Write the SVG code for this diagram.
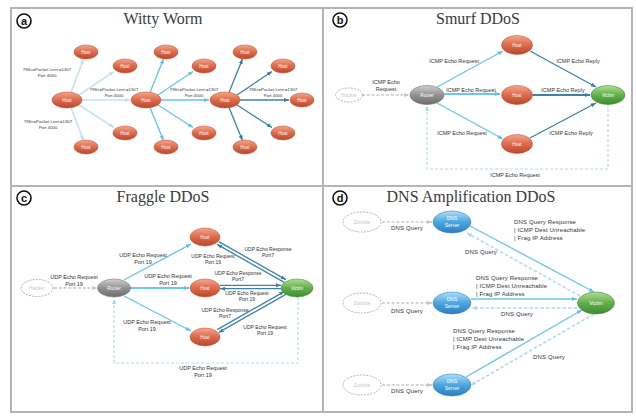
<svg xmlns="http://www.w3.org/2000/svg" width="636" height="416" viewBox="0 0 636 416">
<defs>
<linearGradient id="gHost" x1="0" y1="0" x2="0" y2="1"><stop offset="0" stop-color="#f3a88e"/><stop offset="0.45" stop-color="#df6f50"/><stop offset="1" stop-color="#b9462a"/></linearGradient>
<linearGradient id="gRouter" x1="0" y1="0" x2="0" y2="1"><stop offset="0" stop-color="#cfcfcf"/><stop offset="0.5" stop-color="#929292"/><stop offset="1" stop-color="#6c6c6c"/></linearGradient>
<linearGradient id="gVictim" x1="0" y1="0" x2="0" y2="1"><stop offset="0" stop-color="#b0dc98"/><stop offset="0.5" stop-color="#62b04a"/><stop offset="1" stop-color="#3f8a32"/></linearGradient>
<linearGradient id="gDns" x1="0" y1="0" x2="0" y2="1"><stop offset="0" stop-color="#aee0f8"/><stop offset="0.5" stop-color="#4ba6de"/><stop offset="1" stop-color="#2d7cbf"/></linearGradient>
<marker id="mPale" viewBox="0 0 10 10" refX="10" refY="5" markerWidth="5" markerHeight="5" markerUnits="userSpaceOnUse" orient="auto"><path d="M0,1L10,5L0,9z" fill="#bfe0ee"/></marker>
<marker id="mLight" viewBox="0 0 10 10" refX="10" refY="5" markerWidth="5" markerHeight="5" markerUnits="userSpaceOnUse" orient="auto"><path d="M0,1L10,5L0,9z" fill="#62c0e8"/></marker>
<marker id="mDark" viewBox="0 0 10 10" refX="10" refY="5" markerWidth="5" markerHeight="5" markerUnits="userSpaceOnUse" orient="auto"><path d="M0,1L10,5L0,9z" fill="#3a7ca4"/></marker>
<marker id="mGray" viewBox="0 0 10 10" refX="10" refY="5" markerWidth="5" markerHeight="5" markerUnits="userSpaceOnUse" orient="auto"><path d="M0,1L10,5L0,9z" fill="#c4c4c4"/></marker>
<marker id="mDash" viewBox="0 0 10 10" refX="10" refY="5" markerWidth="5" markerHeight="5" markerUnits="userSpaceOnUse" orient="auto"><path d="M0,1L10,5L0,9z" fill="#a9d8ee"/></marker>
</defs>
<style>
.frame{fill:#fff;stroke:#b4b4b4;stroke-width:2}
.title{font-family:"Liberation Serif",serif;font-size:16px;fill:#3a3a3a;text-anchor:middle}
.badge circle{fill:#fff;stroke:#111;stroke-width:1.6}
.badge text{font-family:"Liberation Sans",sans-serif;font-size:11px;font-weight:bold;fill:#111;text-anchor:middle}
.host{fill:url(#gHost);stroke:#c65637;stroke-width:0.6}
.router{fill:url(#gRouter);stroke:#777;stroke-width:0.6}
.victim{fill:url(#gVictim);stroke:#4a8f3a;stroke-width:0.6}
.dns{fill:url(#gDns);stroke:#3a88c4;stroke-width:0.6}
.ghost{fill:#fff;stroke:#aaa;stroke-width:0.9;stroke-dasharray:2,1.2}
.nt{font-family:"Liberation Sans",sans-serif;font-size:4.5px;fill:#fff;text-anchor:middle}
.gt{font-family:"Liberation Sans",sans-serif;font-size:5px;fill:#c8c8c8;text-anchor:middle}
.lbl{font-family:"Liberation Sans",sans-serif;font-size:5.5px;fill:#333;text-anchor:middle}
.sl{font-family:"Liberation Sans",sans-serif;font-size:5px;fill:#333;text-anchor:middle}
.wl{font-family:"Liberation Sans",sans-serif;font-size:4.3px;fill:#333;text-anchor:middle}
.dl{font-family:"Liberation Sans",sans-serif;font-size:6px;fill:#333;letter-spacing:0.15px}
.dlc{font-family:"Liberation Sans",sans-serif;font-size:6px;fill:#333;text-anchor:middle;letter-spacing:0.15px}
.ePale{stroke:#c6e3ef;stroke-width:1.6;fill:none;marker-end:url(#mPale)}
.eLight{stroke:#6cc5ea;stroke-width:1.4;fill:none;marker-end:url(#mLight)}
.eDark{stroke:#3f81a8;stroke-width:1.3;fill:none;marker-end:url(#mDark)}
.eGray{stroke:#c8c8c8;stroke-width:1.6;stroke-dasharray:3,1.8;fill:none;marker-end:url(#mGray)}
.eDash{stroke:#b3dcef;stroke-width:1.6;stroke-dasharray:3.5,2;fill:none;marker-end:url(#mDash)}
.box{stroke:#b3dcef;stroke-width:1.2;stroke-dasharray:3,2;fill:none}
</style>
<rect width="636" height="416" fill="#fff"/>
<g id="frames">
<rect class="frame" x="11" y="8" width="312" height="178"/>
<rect class="frame" x="323" y="8" width="309" height="178"/>
<rect class="frame" x="11" y="186" width="312" height="226"/>
<rect class="frame" x="323" y="186" width="309" height="226"/>
</g>
<g id="titles">
<text class="title" x="163" y="24">Witty Worm</text>
<text class="title" x="478" y="24">Smurf DDoS</text>
<text class="title" x="163" y="202">Fraggle DDoS</text>
<text class="title" x="471" y="202">DNS Amplification DDoS</text>
<g class="badge"><circle cx="24" cy="21" r="7"/><text x="24" y="25">a</text></g>
<g class="badge"><circle cx="340" cy="20" r="7"/><text x="340" y="24">b</text></g>
<g class="badge"><circle cx="24" cy="198" r="7"/><text x="24" y="202">c</text></g>
<g class="badge"><circle cx="340" cy="198" r="7"/><text x="340" y="202">d</text></g>
</g>
<g id="connectors">
<!-- a -->
<line class="ePale" x1="71" y1="92.5" x2="83.5" y2="59"/>
<line class="ePale" x1="79" y1="95" x2="114" y2="71.5"/>
<line class="ePale" x1="79" y1="105" x2="114" y2="127.5"/>
<line class="ePale" x1="71" y1="107.5" x2="83.5" y2="140.5"/>
<line class="ePale" x1="82" y1="100" x2="130" y2="100"/>
<line class="eLight" x1="150" y1="92.5" x2="163.5" y2="59"/>
<line class="eLight" x1="158" y1="95" x2="193" y2="71.5"/>
<line class="eLight" x1="158" y1="105" x2="193" y2="127.5"/>
<line class="eLight" x1="150" y1="107.5" x2="163.5" y2="140.5"/>
<line class="eLight" x1="161" y1="100" x2="209" y2="100"/>
<line class="eDark" x1="229" y1="92.5" x2="242.5" y2="59"/>
<line class="eDark" x1="237" y1="95" x2="272" y2="71.5"/>
<line class="eDark" x1="237" y1="105" x2="272" y2="127.5"/>
<line class="eDark" x1="229" y1="107.5" x2="242.5" y2="140.5"/>
<line class="eDark" x1="240" y1="100" x2="289" y2="100"/>
<!-- b -->
<line class="eGray" x1="362" y1="95" x2="409" y2="95"/>
<line class="eLight" x1="437" y1="87" x2="503" y2="51"/>
<line class="eLight" x1="444" y1="94" x2="500" y2="94" style="stroke-width:2.2"/>
<line class="eLight" x1="437" y1="103" x2="503" y2="139"/>
<line class="eDark" x1="530" y1="51" x2="596" y2="87"/>
<line class="eDark" x1="532" y1="95" x2="590" y2="95" style="stroke-width:1.8"/>
<line class="eDark" x1="530" y1="138" x2="596" y2="103"/>
<path class="box" d="M608,104V169H427V106" style="marker-end:url(#mDash)"/>
<!-- c -->
<line class="eGray" x1="54" y1="288" x2="97" y2="288"/>
<line class="eLight" x1="124" y1="280" x2="191" y2="244"/>
<line class="eLight" x1="130" y1="288" x2="189" y2="288" style="stroke-width:2"/>
<line class="eLight" x1="124" y1="296" x2="191" y2="331"/>
<line class="eDark" x1="218.8" y1="241.6" x2="285.8" y2="279.6"/>
<line class="eDark" x1="284.2" y1="282.4" x2="217.2" y2="244.4"/>
<line class="eDark" x1="220" y1="285.3" x2="281" y2="285.3"/>
<line class="eDark" x1="281" y1="288.7" x2="220" y2="288.7"/>
<line class="eDark" x1="217.2" y1="329.6" x2="284.2" y2="291.6"/>
<line class="eDark" x1="285.8" y1="294.4" x2="218.8" y2="332.4"/>
<path class="box" d="M298,297V363H114V299" style="marker-end:url(#mDash)"/>
<!-- d -->
<line class="eGray" x1="382" y1="222" x2="432" y2="222"/>
<line class="eGray" x1="382" y1="303" x2="432" y2="303"/>
<line class="eGray" x1="382" y1="385" x2="432" y2="385"/>
<line class="eLight" x1="470" y1="226" x2="594" y2="292"/>
<line class="eDash" x1="580" y1="296" x2="467" y2="233"/>
<line class="eLight" x1="471" y1="299" x2="577" y2="299"/>
<line class="eDash" x1="577" y1="308" x2="472" y2="308"/>
<line class="eLight" x1="466" y1="377" x2="582" y2="310"/>
<line class="eDash" x1="594" y1="314" x2="471" y2="385"/>
</g>
<g id="labels">
<text class="wl" x="47" y="71">796&lt;=Packet Len&lt;=1307</text><text class="wl" x="47" y="76.5">Port 4000</text>
<text class="wl" x="114" y="91">796&lt;=Packet Len&lt;=1307</text><text class="wl" x="114" y="96.5">Port 4000</text>
<text class="wl" x="194" y="91">796&lt;=Packet Len&lt;=1307</text><text class="wl" x="194" y="96.5">Port 4000</text>
<text class="wl" x="273" y="91">796&lt;=Packet Len&lt;=1307</text><text class="wl" x="273" y="96.5">Port 4000</text>
<text class="wl" x="48" y="123">796&lt;=Packet Len&lt;=1307</text><text class="wl" x="48" y="128.5">Port 4000</text>
<text class="lbl" x="386" y="84">ICMP Echo</text><text class="lbl" x="386" y="91">Request</text>
<text class="lbl" x="454" y="63">ICMP Echo Request</text>
<text class="lbl" x="578" y="63">ICMP Echo Reply</text>
<text class="lbl" x="471" y="92">ICMP Echo Request</text>
<text class="lbl" x="563" y="92">ICMP Echo Reply</text>
<text class="lbl" x="462" y="135">ICMP Echo Request</text>
<text class="lbl" x="571" y="135">ICMP Echo Reply</text>
<text class="lbl" x="515" y="177">ICMP Echo Request</text>
<text class="lbl" x="74" y="279">UDP Echo Request</text><text class="lbl" x="74" y="286">Port 19</text>
<text class="lbl" x="143" y="257">UDP Echo Request</text><text class="lbl" x="143" y="264">Port 19</text>
<text class="lbl" x="168" y="278">UDP Echo Request</text><text class="lbl" x="168" y="285">Port 19</text>
<text class="lbl" x="147" y="324">UDP Echo Request</text><text class="lbl" x="147" y="331">Port 19</text>
<text class="lbl" x="203" y="370">UDP Echo Request</text><text class="lbl" x="203" y="377">Port 19</text>
<text class="sl" x="268" y="251">UDP Echo Response</text><text class="sl" x="268" y="257">Port7</text>
<text class="sl" x="213" y="258">UDP Echo Request</text><text class="sl" x="213" y="264">Port 19</text>
<text class="sl" x="238" y="275">UDP Echo Response</text><text class="sl" x="238" y="281">Port7</text>
<text class="sl" x="247" y="295">UDP Echo Request</text><text class="sl" x="247" y="301">Port 19</text>
<text class="sl" x="225" y="312">UDP Echo Response</text><text class="sl" x="225" y="318">Port7</text>
<text class="sl" x="265" y="329">UDP Echo Request</text><text class="sl" x="265" y="335">Port 19</text>
<text class="dlc" x="407" y="230">DNS Query</text>
<text class="dlc" x="407" y="313">DNS Query</text>
<text class="dlc" x="407" y="393">DNS Query</text>
<text class="dlc" x="481" y="254">DNS Query</text>
<text class="dlc" x="517" y="316">DNS Query</text>
<text class="dlc" x="549" y="359">DNS Query</text>
<text class="dl" x="514" y="224">DNS Query Response</text><text class="dl" x="514" y="232">| ICMP Dest Unreachable</text><text class="dl" x="514" y="240">| Frag IP Address</text>
<text class="dl" x="476" y="280">DNS Query Response</text><text class="dl" x="476" y="288">| ICMP Dest Unreachable</text><text class="dl" x="476" y="296">| Frag IP Address</text>
<text class="dl" x="453" y="333">DNS Query Response</text><text class="dl" x="453" y="341">| ICMP Dest Unreachable</text><text class="dl" x="453" y="349">| Frag IP Address</text>
</g>
<!-- panel a nodes -->
<g id="a-host-1"><ellipse class="host" cx="67" cy="100" rx="15" ry="8"/><text class="nt" x="67" y="101.6">Host</text></g>
<g id="a-host-2"><ellipse class="host" cx="146" cy="100" rx="15" ry="8"/><text class="nt" x="146" y="101.6">Host</text></g>
<g id="a-host-3"><ellipse class="host" cx="225" cy="100" rx="15" ry="8"/><text class="nt" x="225" y="101.6">Host</text></g>
<g id="a-host-4"><ellipse class="host" cx="302" cy="100" rx="12" ry="7"/><text class="nt" x="302" y="101.6">Host</text></g>
<g id="a-host-5"><ellipse class="host" cx="86" cy="52" rx="12" ry="7"/><text class="nt" x="86" y="53.6">Host</text></g>
<g id="a-host-6"><ellipse class="host" cx="166" cy="52" rx="12" ry="7"/><text class="nt" x="166" y="53.6">Host</text></g>
<g id="a-host-7"><ellipse class="host" cx="245" cy="52" rx="12" ry="7"/><text class="nt" x="245" y="53.6">Host</text></g>
<g id="a-host-8"><ellipse class="host" cx="125" cy="66" rx="12" ry="7"/><text class="nt" x="125" y="67.6">Host</text></g>
<g id="a-host-9"><ellipse class="host" cx="204" cy="66" rx="12" ry="7"/><text class="nt" x="204" y="67.6">Host</text></g>
<g id="a-host-10"><ellipse class="host" cx="283" cy="66" rx="12" ry="7"/><text class="nt" x="283" y="67.6">Host</text></g>
<g id="a-host-11"><ellipse class="host" cx="125" cy="133" rx="12" ry="7"/><text class="nt" x="125" y="134.6">Host</text></g>
<g id="a-host-12"><ellipse class="host" cx="204" cy="133" rx="12" ry="7"/><text class="nt" x="204" y="134.6">Host</text></g>
<g id="a-host-13"><ellipse class="host" cx="283" cy="133" rx="12" ry="7"/><text class="nt" x="283" y="134.6">Host</text></g>
<g id="a-host-14"><ellipse class="host" cx="86" cy="147" rx="12" ry="7"/><text class="nt" x="86" y="148.6">Host</text></g>
<g id="a-host-15"><ellipse class="host" cx="166" cy="147" rx="12" ry="7"/><text class="nt" x="166" y="148.6">Host</text></g>
<g id="a-host-16"><ellipse class="host" cx="245" cy="147" rx="12" ry="7"/><text class="nt" x="245" y="148.6">Host</text></g>
<!-- panel b nodes -->
<g id="b-hacker"><ellipse class="ghost" cx="349" cy="95" rx="13.5" ry="7"/><text class="gt" x="349" y="96.7">Hacker</text></g>
<g id="b-router"><ellipse class="router" cx="427" cy="95" rx="17" ry="9.5"/><text class="nt" x="427" y="96.6">Router</text></g>
<g id="b-host-1"><ellipse class="host" cx="517" cy="45" rx="15.5" ry="9.5"/><text class="nt" x="517" y="46.6">Host</text></g>
<g id="b-host-2"><ellipse class="host" cx="517" cy="95" rx="15.5" ry="9.5"/><text class="nt" x="517" y="96.6">Host</text></g>
<g id="b-host-3"><ellipse class="host" cx="517" cy="144" rx="15.5" ry="9.5"/><text class="nt" x="517" y="145.6">Host</text></g>
<g id="b-victim"><ellipse class="victim" cx="608" cy="95" rx="17" ry="9.5"/><text class="nt" x="608" y="96.6">Victim</text></g>
<!-- panel c nodes -->
<g id="c-hacker"><ellipse class="ghost" cx="37" cy="288" rx="16" ry="8.5"/><text class="gt" x="37" y="289.7">Hacker</text></g>
<g id="c-router"><ellipse class="router" cx="114" cy="288" rx="16.5" ry="9"/><text class="nt" x="114" y="289.6">Router</text></g>
<g id="c-host-1"><ellipse class="host" cx="205" cy="237" rx="15" ry="9"/><text class="nt" x="205" y="238.6">Host</text></g>
<g id="c-host-2"><ellipse class="host" cx="205" cy="288" rx="15" ry="9"/><text class="nt" x="205" y="289.6">Host</text></g>
<g id="c-host-3"><ellipse class="host" cx="205" cy="337" rx="15" ry="9"/><text class="nt" x="205" y="338.6">Host</text></g>
<g id="c-victim"><ellipse class="victim" cx="297" cy="288" rx="16" ry="9"/><text class="nt" x="297" y="289.6">Victim</text></g>
<!-- panel d nodes -->
<g id="d-zombie-1"><ellipse class="ghost" cx="362" cy="222" rx="19" ry="10"/><text class="gt" x="362" y="224">Zombie</text></g>
<g id="d-zombie-2"><ellipse class="ghost" cx="362" cy="303" rx="19" ry="10"/><text class="gt" x="362" y="305">Zombie</text></g>
<g id="d-zombie-3"><ellipse class="ghost" cx="362" cy="385" rx="19" ry="10"/><text class="gt" x="362" y="387">Zombie</text></g>
<g id="d-dns-1"><ellipse class="dns" cx="452" cy="222" rx="19" ry="11"/><text class="nt" x="452" y="220" style="font-size:5px">DNS</text><text class="nt" x="452" y="227" style="font-size:5px">Server</text></g>
<g id="d-dns-2"><ellipse class="dns" cx="452" cy="303" rx="19" ry="11"/><text class="nt" x="452" y="301" style="font-size:5px">DNS</text><text class="nt" x="452" y="308" style="font-size:5px">Server</text></g>
<g id="d-dns-3"><ellipse class="dns" cx="452" cy="385" rx="19" ry="11"/><text class="nt" x="452" y="383" style="font-size:5px">DNS</text><text class="nt" x="452" y="390" style="font-size:5px">Server</text></g>
<g id="d-victim"><ellipse class="victim" cx="596" cy="303" rx="18.5" ry="11"/><text class="nt" x="596" y="305" style="font-size:5px">Victim</text></g>
</svg>
